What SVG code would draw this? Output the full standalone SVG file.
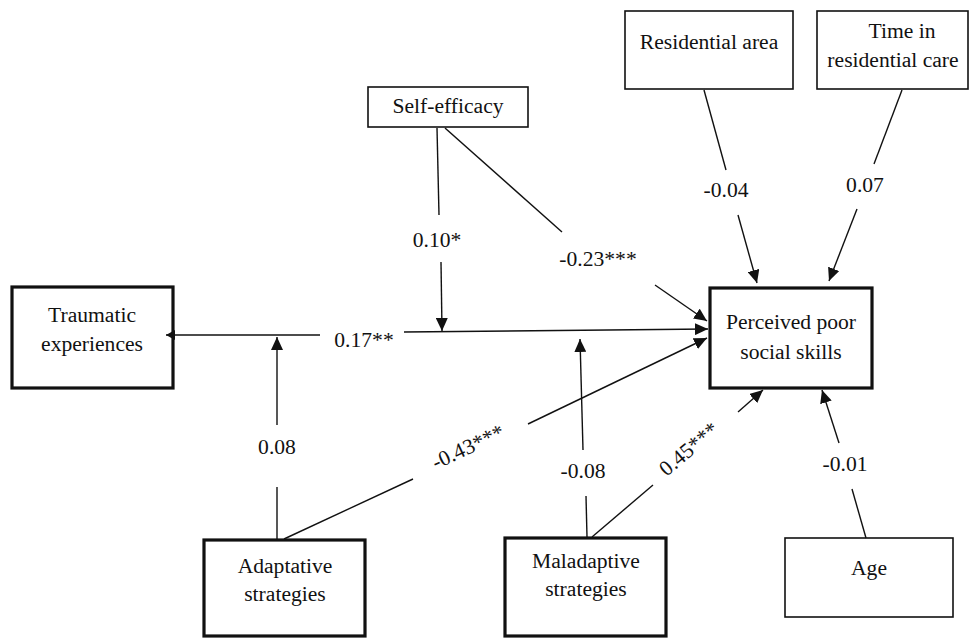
<svg xmlns="http://www.w3.org/2000/svg" width="974" height="639" viewBox="0 0 974 639" font-family="Liberation Serif" font-size="21.6" text-anchor="middle">
<style>
.thin{fill:#fff;stroke:#111;stroke-width:1.6}
.thick{fill:#fff;stroke:#111;stroke-width:3.2}
.c{stroke:#111;stroke-width:1.4;fill:none}
</style>
<defs>
<marker id="a" markerUnits="userSpaceOnUse" markerWidth="14" markerHeight="12" refX="13" refY="6" orient="auto">
<path d="M0,0 L13,6 L0,12 Z" fill="#111"/>
</marker>
<marker id="s" markerUnits="userSpaceOnUse" markerWidth="10" markerHeight="10" refX="9" refY="5" orient="auto">
<path d="M0,0 L9,5 L0,10 Z" fill="#111"/>
</marker>
</defs>
<g id="traumatic">
<rect class="thick" x="12" y="287" width="161" height="101"/>
<text x="92" y="322" fill="#111">Traumatic</text>
<text x="92" y="351" fill="#111">experiences</text>
</g>
<g id="selfefficacy">
<rect class="thin" x="368" y="87" width="160" height="40"/>
<text x="448" y="113" fill="#111">Self-efficacy</text>
</g>
<g id="residential">
<rect class="thin" x="625" y="11" width="168" height="78"/>
<text x="709" y="49" fill="#111">Residential area</text>
</g>
<g id="time">
<rect class="thin" x="817" y="11" width="151" height="78"/>
<text x="902" y="38" fill="#111">Time in</text>
<text x="893" y="67" fill="#111">residential care</text>
</g>
<g id="perceived">
<rect class="thick" x="710" y="288" width="162" height="100"/>
<text x="791" y="329" fill="#111">Perceived poor</text>
<text x="791" y="359" fill="#111">social skills</text>
</g>
<g id="adaptative">
<rect class="thick" x="204" y="540" width="161" height="96"/>
<text x="285" y="573" fill="#111">Adaptative</text>
<text x="285" y="601" fill="#111">strategies</text>
</g>
<g id="maladaptive">
<rect class="thick" x="505" y="538" width="161" height="98"/>
<text x="586" y="568" fill="#111">Maladaptive</text>
<text x="586" y="596" fill="#111">strategies</text>
</g>
<g id="age">
<rect class="thin" x="785" y="538" width="168" height="79"/>
<text x="869" y="575" fill="#111">Age</text>
</g>
<g id="connectors">
<line class="c" x1="320" y1="335" x2="166" y2="335" marker-end="url(#s)"/>
<line class="c" x1="404" y1="332" x2="708" y2="329" marker-end="url(#a)"/>
<line class="c" x1="437" y1="128" x2="439" y2="215"/>
<line class="c" x1="441" y1="262" x2="442" y2="331" marker-end="url(#a)"/>
<line class="c" x1="445" y1="128" x2="562" y2="232"/>
<line class="c" x1="655" y1="285" x2="707" y2="321" marker-end="url(#a)"/>
<line class="c" x1="704" y1="90" x2="726" y2="170"/>
<line class="c" x1="738" y1="215" x2="757" y2="283" marker-end="url(#a)"/>
<line class="c" x1="902" y1="90" x2="874" y2="164"/>
<line class="c" x1="857" y1="209" x2="829" y2="281" marker-end="url(#a)"/>
<line class="c" x1="277" y1="539" x2="277" y2="487"/>
<line class="c" x1="277" y1="425" x2="277" y2="337" marker-end="url(#a)"/>
<line class="c" x1="284" y1="539" x2="413" y2="479"/>
<line class="c" x1="528" y1="424" x2="707" y2="338" marker-end="url(#a)"/>
<line class="c" x1="587" y1="537" x2="586" y2="496"/>
<line class="c" x1="583" y1="450" x2="580" y2="339" marker-end="url(#a)"/>
<line class="c" x1="592" y1="537" x2="653" y2="485"/>
<line class="c" x1="738" y1="412" x2="763" y2="390" marker-end="url(#a)"/>
<line class="c" x1="866" y1="538" x2="852" y2="489"/>
<line class="c" x1="839" y1="443" x2="822" y2="390" marker-end="url(#a)"/>
</g>
<g id="labels" fill="#111">
<text x="437" y="247">0.10*</text>
<text x="598" y="266">-0.23***</text>
<text x="364" y="347">0.17**</text>
<text x="726" y="197">-0.04</text>
<text x="865" y="192">0.07</text>
<text x="277" y="454">0.08</text>
<text x="583" y="478">-0.08</text>
<text x="845" y="471">-0.01</text>
<text transform="translate(468,447) rotate(-25)" y="7">-0.43***</text>
<text transform="translate(689,449) rotate(-40)" y="7">0.45***</text>
</g>
</svg>
